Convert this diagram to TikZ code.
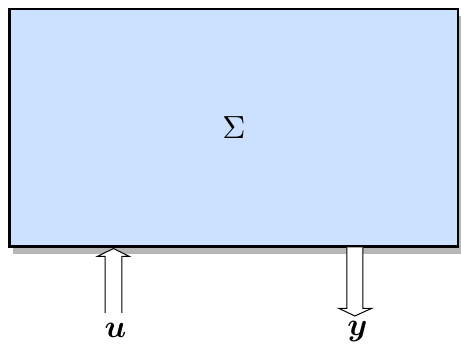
\documentclass[tikz,border=0pt]{standalone}
\usepackage{bm}
\usetikzlibrary{shadows,calc}
\definecolor{sysfill}{RGB}{204,224,255}
\definecolor{shadowgray}{RGB}{182,182,182}
\tikzset{
  sysbox/.style={draw=black, line width=2.5pt, fill=sysfill, inner sep=0pt,
    minimum width=448.5pt, minimum height=237.5pt,
    drop shadow={shadow xshift=4pt, shadow yshift=-7pt, fill=shadowgray, opacity=1}},
  bigarrow/.style={draw=black, line width=1pt, fill=white, line join=miter},
  lab/.style={inner sep=0pt, anchor=base}
}
\newcommand{\bigtxt}[1]{\scalebox{3.2}{#1}}
\begin{document}
\begin{tikzpicture}[x=1pt,y=-1pt]
\useasboundingbox (0,0) rectangle (461,344);
\node[sysbox] (sys) at (233.5,128) {};
\node[lab] (sig) at (234,138.3) {\bigtxt{$\Sigma$}};
% input arrow u
\coordinate (utip) at (113.5,248.5);
\coordinate (uend) at (113.5,313);
\draw[bigarrow] ($(uend)+(-8.3,0)$) -- ++(0,-56.5) -- ++(-8,0) -- (utip) -- ++(16,8) -- ++(-7.7,0) -- ($(uend)+(8.3,0)$);
\node[lab] (ulab) at (115.5,337.3) {\bigtxt{$\bm{u}$}};
% output arrow y
\coordinate (ystart) at (354.8,247.5);
\coordinate (ytip) at (354.8,316);
\draw[bigarrow] ($(ystart)+(-8,0)$) -- ++(0,60.8) -- ++(-8,0) -- (ytip) -- ++(17,-7.7) -- ++(-9,0) -- ($(ystart)+(8,0)$);
\node[lab] (ylab) at (357.5,336) {\bigtxt{$\bm{y}$}};
\end{tikzpicture}
\end{document}
